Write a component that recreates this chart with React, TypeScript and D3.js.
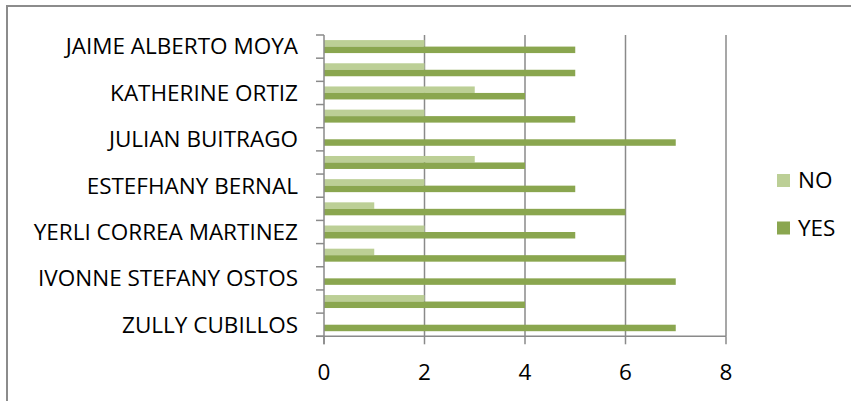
import React from "react";
import * as d3 from "d3";

// bottom to top (first category at bottom)
const categories = [
  "ZULLY CUBILLOS", "", "IVONNE STEFANY OSTOS", "", "YERLI CORREA MARTINEZ", "",
  "ESTEFHANY BERNAL", "", "JULIAN BUITRAGO", "", "KATHERINE ORTIZ", "", "JAIME ALBERTO MOYA",
];
const noValues = [0, 2, 0, 1, 2, 1, 2, 3, 0, 2, 3, 2, 2];
const yesValues = [7, 4, 7, 6, 5, 6, 5, 4, 7, 5, 4, 5, 5];
const xTicks = [0, 2, 4, 6, 8];
const seriesNames = ["NO", "YES"];

const W = 851, H = 401;
const plotLeft = 324, plotRight = 726, plotTop = 35, plotBottom = 336.3;
const colorNo = "#bccf96";
const colorYes = "#8aa64f";
const gridColor = "#8a8a8a";
const font = "'Open Sans', sans-serif";
const fs = 22.5;

export default function App() {
  const x = d3.scaleLinear().domain([0, 8]).range([plotLeft, plotRight]);
  const idx = categories.map((_, i) => i);
  const y = d3.scaleBand<number>().domain(idx.slice().reverse()).range([plotTop, plotBottom]).paddingInner(0).paddingOuter(0);
  const bw = y.bandwidth();
  const barH = bw * 0.28;
  const gap = (bw - 2 * barH) / 2;

  return (
    <svg width={W} height={H} style={{ position: "absolute", left: 0, top: 0, background: "#fff" }} fontFamily={font}>
      <rect x={7} y={6} width={W + 20} height={H + 20} fill="#fff" stroke="#8c8c8c" strokeWidth={2} />
      {/* gridlines */}
      {xTicks.filter((t) => t > 0).map((t) => (
        <line key={t} x1={x(t)} x2={x(t)} y1={plotTop} y2={plotBottom} stroke={gridColor} strokeWidth={1.5} />
      ))}
      {/* bars */}
      {idx.map((i) => {
        const y0 = (y(i) as number) + gap;
        return (
          <g key={i}>
            {noValues[i] > 0 && (
              <rect x={x(0)} y={y0} width={x(noValues[i]) - x(0)} height={barH} fill={colorNo} />
            )}
            <rect x={x(0)} y={y0 + barH} width={x(yesValues[i]) - x(0)} height={barH} fill={colorYes} />
          </g>
        );
      })}
      {/* y axis */}
      <line x1={plotLeft} x2={plotLeft} y1={plotTop} y2={plotBottom + 8} stroke={gridColor} strokeWidth={1.5} />
      {idx.concat([-1]).map((i) => {
        const yy = i === -1 ? plotBottom : (y(i) as number);
        return <line key={"yt" + i} x1={plotLeft - 8} x2={plotLeft} y1={yy} y2={yy} stroke={gridColor} strokeWidth={1.5} />;
      })}
      {idx.map((i) =>
        categories[i] ? (
          <text key={"yl" + i} x={298} y={(y(i) as number) + bw / 2} dy="0.35em" textAnchor="end" fontSize={fs} fill="#000">
            {categories[i]}
          </text>
        ) : null
      )}
      {/* x axis */}
      <line x1={plotLeft - 8} x2={plotRight} y1={plotBottom} y2={plotBottom} stroke={gridColor} strokeWidth={1.5} />
      {xTicks.map((t) => (
        <g key={"xt" + t}>
          <line x1={x(t)} x2={x(t)} y1={plotBottom} y2={plotBottom + 8} stroke={gridColor} strokeWidth={1.5} />
          <text x={x(t)} y={380} textAnchor="middle" fontSize={fs} fill="#000">{t}</text>
        </g>
      ))}
      {/* legend */}
      {seriesNames.map((s, k) => (
        <g key={s} transform={`translate(777, ${174 + k * 47.5})`}>
          <rect x={0} y={0} width={13} height={13} fill={k === 0 ? colorNo : colorYes} />
          <text x={21} y={14} fontSize={fs} fill="#000">{s}</text>
        </g>
      ))}
    </svg>
  );
}
